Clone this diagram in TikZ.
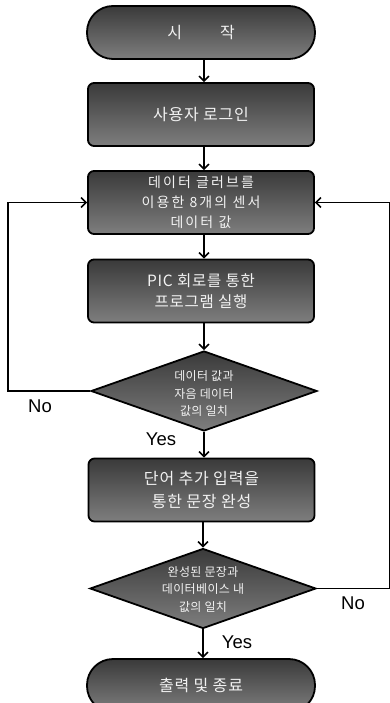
\documentclass[tikz,border=0pt]{standalone}
\usepackage{fontspec}
\setmainfont{Liberation Sans}
\newfontfamily\krA[LetterSpace=5]{Noto Sans CJK KR}
\newfontfamily\krB[LetterSpace=15]{Noto Sans CJK KR}
\newfontfamily\krC[LetterSpace=3]{Noto Sans CJK KR}
\usetikzlibrary{shapes.geometric,arrows.meta}
\definecolor{boxtop}{HTML}{3A3A3A}
\definecolor{boxbot}{HTML}{7E7E7E}
\definecolor{txt}{HTML}{F2F2F2}
\begin{document}
\begin{tikzpicture}[x=1pt,y=-1pt,
  box/.style={draw=black, line width=1.8pt, rounded corners=6pt, top color=boxtop, bottom color=boxbot,
    minimum width=226pt, minimum height=63pt, inner sep=0pt, text=txt, align=center},
  term/.style={box, rounded corners=26pt, minimum width=228pt, minimum height=53pt},
  dec/.style={draw=black, line width=1.8pt, diamond, top color=boxtop, bottom color=boxbot,
    minimum width=226pt, minimum height=80pt, inner sep=0pt},
  dectxt/.style={text=txt, align=center, inner sep=0pt, font=\krC\fontsize{12}{17.5}\selectfont},
  arr/.style={line width=1.5pt, -{Straight Barb[length=5pt,width=10pt]}},
  lbl/.style={inner sep=0pt, font=\fontsize{18.5}{20}\selectfont}
]
\useasboundingbox (0,0) rectangle (390,703);
\clip (0,0) rectangle (390,703);
\fill[white] (0,0) rectangle (390,703);

\node[term, font=\krC\fontsize{16}{18}\selectfont] (start) at (201,32.5) {시\hspace{38pt}작};
\node[box, font=\krA\fontsize{16}{18}\selectfont] (b1) at (201,114.5) {사용자 로그인};
\node[box, font=\krB\fontsize{14}{20}\selectfont] (b2) at (201,202.5) {데이터 글러브를\\이용한 8개의 센서\\데이터 값};
\node[box, font=\krA\fontsize{15.5}{21}\selectfont] (b3) at (201,291) {PIC 회로를 통한\\프로그램 실행};
\node[dec] (d1) at (204,391) {};
\node[dectxt] (d1t) at (204,394) {데이터 값과\\자음 데이터\\값의 일치};
\node[box, font=\krA\fontsize{16}{23}\selectfont] (b4) at (201.5,490) {단어 추가 입력을\\통한 문장 완성};
\node[dec] (d2) at (203,588.5) {};
\node[dectxt] (d2t) at (203,589.5) {완성된 문장과\\데이터베이스 내\\값의 일치};
\node[term, font=\krA\fontsize{16}{18}\selectfont] (end) at (201,685.5) {출력 및 종료};

\coordinate (L) at (8,0);
\coordinate (R) at (390,0);

\draw[arr] (start.south -| d1.north) -- (b1.north -| d1.north);
\draw[arr] (b1.south -| d1.north) -- (b2.north -| d1.north);
\draw[arr] (b2.south -| d1.north) -- (b3.north -| d1.north);
\draw[arr] (b3.south -| d1.north) -- (d1.north);
\draw[arr] (d1.south) -- (b4.north -| d1.south);
\draw[arr] (b4.south -| d2.north) -- (d2.north);
\draw[arr] (d2.south) -- (end.north -| d2.south);

\draw[arr] (d1.west) -- (d1.west -| L) -- (b2.west -| L) -- (b2.west);
\draw[arr] (d2.east) -- (d2.east -| R) -- (b2.east -| R) -- (b2.east);

\node[lbl] (no1) at (40,406) {No};
\node[lbl] (yes1) at (161,439) {Yes};
\node[lbl] (no2) at (353,603) {No};
\node[lbl] (yes2) at (237,642) {Yes};
\end{tikzpicture}
\end{document}
